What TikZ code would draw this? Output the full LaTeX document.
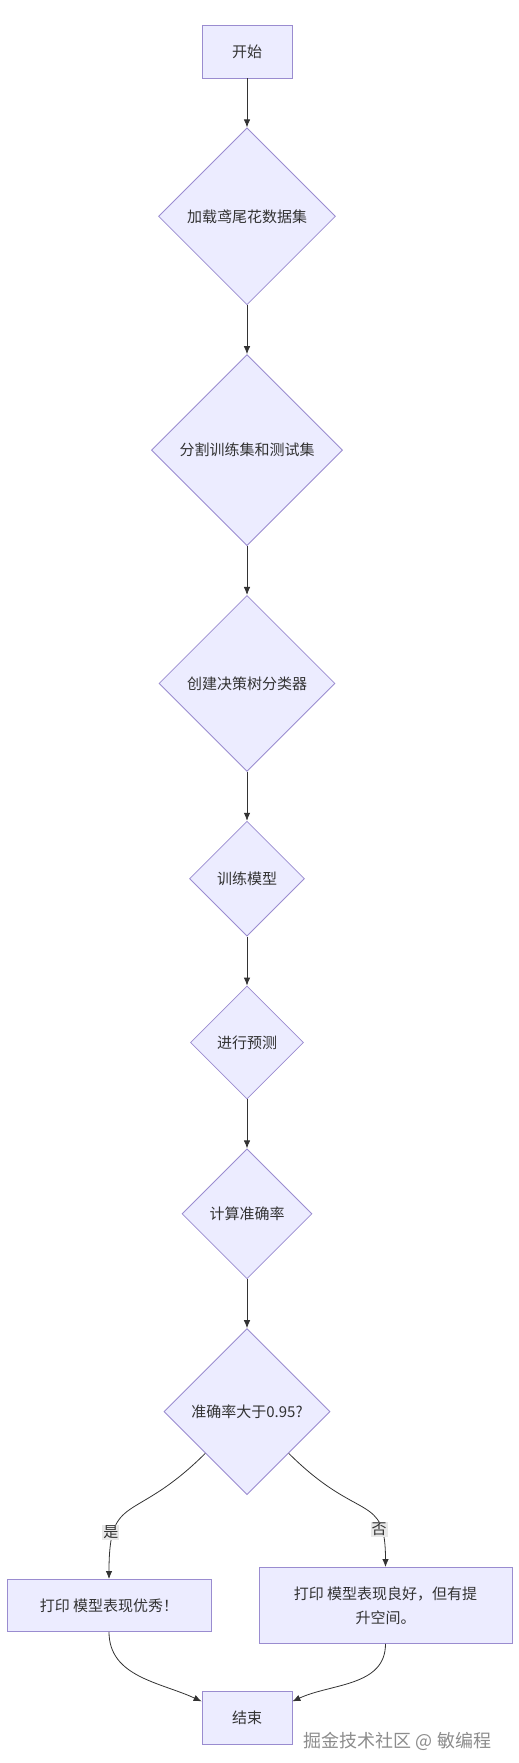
\documentclass[tikz,border=0pt]{standalone}
\usepackage{fontspec}
\setmainfont{Noto Sans CJK SC}
\usetikzlibrary{arrows.meta, positioning, shapes.geometric}
\definecolor{nodefill}{HTML}{ECECFF}
\definecolor{nodeline}{HTML}{9A8CD0}
\definecolor{textgray}{HTML}{333333}
\definecolor{labelbg}{HTML}{E8E8E8}
\definecolor{markgray}{HTML}{8C8C8C}

\begin{document}
\begin{tikzpicture}[
        node distance=49pt,
        >={Latex[length=8pt,width=6.5pt]},
        every node/.style={font=\fontsize{15}{24}\selectfont, text=textgray},
        startstop/.style={rectangle, draw=nodeline, fill=nodefill, line width=0.8pt, minimum width=90pt, minimum height=53pt},
        process/.style={rectangle, draw=nodeline, fill=nodefill, line width=0.8pt, align=center, minimum height=52pt},
        decision/.style={diamond, draw=nodeline, fill=nodefill, line width=0.8pt, aspect=1, inner sep=0pt},
        edgelabel/.style={fill=labelbg, inner sep=1pt},
        arrow/.style={->, draw=textgray, line width=0.8pt}
    ]
        \useasboundingbox (0,0) rectangle (519pt,-1763pt);

        \node[startstop] (start) at (247pt,-51.5pt) {开始};
        \node[decision, minimum size=177pt, below=of start] (load) {加载鸢尾花数据集};
        \node[decision, minimum size=191pt, below=of load] (split) {分割训练集和测试集};
        \node[decision, minimum size=176pt, below=of split] (create) {创建决策树分类器};
        \node[decision, minimum size=115pt, below=of create] (train) {训练模型};
        \node[decision, minimum size=113pt, below=of train] (predict) {进行预测};
        \node[decision, minimum size=130pt, below=of predict] (score) {计算准确率};
        \node[decision, minimum size=166pt, below=of score] (check) {准确率大于0.95?};
        \node[process, minimum width=204pt, below=84pt of check, xshift=-138pt] (great) {打印 模型表现优秀！};
        \node[process, minimum width=253pt, minimum height=76pt, below=72pt of check, xshift=138.5pt] (fine) {打印 模型表现良好，但有提\\升空间。};
        \node[startstop, below=196pt of check] (end) {结束};
        \node[font=\fontsize{18}{18}\selectfont, text=markgray, right=8pt of end.east, yshift=-23.5pt] (mark) {掘金技术社区 @ 敏编程};

        \draw[arrow] (start) -- (load);
        \draw[arrow] (load) -- (split);
        \draw[arrow] (split) -- (create);
        \draw[arrow] (create) -- (train);
        \draw[arrow] (train) -- (predict);
        \draw[arrow] (predict) -- (score);
        \draw[arrow] (score) -- (check);

        \draw[arrow] (check.south west) .. controls +(225:102pt) and +(90:88pt) .. node[edgelabel, pos=0.75, xshift=-3pt] {是} (great.north);
        \draw[arrow] (check.south east) .. controls +(-45:100pt) and +(90:75pt) .. node[edgelabel, pos=0.77, xshift=-2pt] {否} (fine.north);

        \draw[arrow] (great.south) to[out=-90, in=155] (end.160);
        \draw[arrow] (fine.south) to[out=-90, in=25] (end.20);
    \end{tikzpicture}
\end{document}
